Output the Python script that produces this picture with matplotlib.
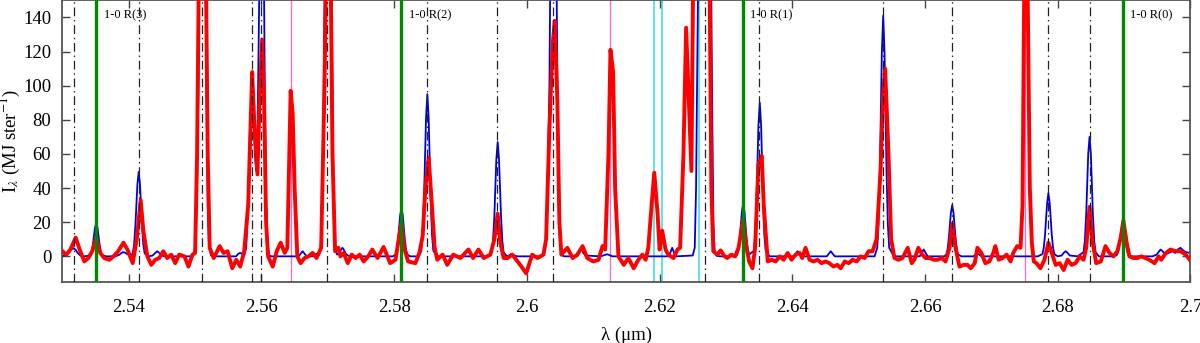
import matplotlib
matplotlib.use('Agg')
import matplotlib.pyplot as plt

# observed spectrum (red)
obs_wl = [2.5300, 2.5306, 2.5312, 2.5320, 2.5326, 2.5333, 2.5339, 2.5345, 2.5351, 2.5357,
          2.5363, 2.5371, 2.5377, 2.5384, 2.5392, 2.5398, 2.5406, 2.5412, 2.5418, 2.5422,
          2.5428, 2.5434, 2.5440, 2.5446, 2.5452, 2.5458, 2.5464, 2.5470, 2.5476, 2.5484,
          2.5490, 2.5496, 2.5500, 2.5503, 2.5506, 2.5516, 2.5519, 2.5522, 2.5528, 2.5532,
          2.5537, 2.5543, 2.5549, 2.5556, 2.5562, 2.5568, 2.5574, 2.5580, 2.5586, 2.5589,
          2.5594, 2.5597, 2.5601, 2.5604, 2.5607, 2.5610, 2.5617, 2.5623, 2.5629, 2.5635,
          2.5639, 2.5644, 2.5647, 2.5650, 2.5654, 2.5659, 2.5665, 2.5671, 2.5677, 2.5683,
          2.5690, 2.5695, 2.5698, 2.5704, 2.5707, 2.5711, 2.5716, 2.5719, 2.5724, 2.5730,
          2.5736, 2.5742, 2.5748, 2.5754, 2.5761, 2.5767, 2.5775, 2.5784, 2.5794, 2.5802,
          2.5806, 2.5811, 2.5815, 2.5821, 2.5832, 2.5838, 2.5843, 2.5847, 2.5852, 2.5856,
          2.5861, 2.5865, 2.5873, 2.5880, 2.5889, 2.5900, 2.5907, 2.5912, 2.5919, 2.5927,
          2.5935, 2.5945, 2.5951, 2.5956, 2.5960, 2.5965, 2.5971, 2.5978, 2.5984, 2.5990,
          2.5999, 2.6008, 2.6016, 2.6025, 2.6029, 2.6034, 2.6039, 2.6042, 2.6046, 2.6049,
          2.6052, 2.6061, 2.6069, 2.6076, 2.6084, 2.6091, 2.6100, 2.6108, 2.6114, 2.6118,
          2.6123, 2.6126, 2.6130, 2.6133, 2.6138, 2.6146, 2.6153, 2.6161, 2.6168, 2.6174,
          2.6179, 2.6183, 2.6188, 2.6192, 2.6197, 2.6200, 2.6204, 2.6209, 2.6213, 2.6221,
          2.6227, 2.6231, 2.6236, 2.6240, 2.6244, 2.6248, 2.6251, 2.6275, 2.6278, 2.6281,
          2.6287, 2.6292, 2.6298, 2.6302, 2.6308, 2.6314, 2.6319, 2.6322, 2.6326, 2.6331,
          2.6335, 2.6340, 2.6344, 2.6349, 2.6354, 2.6357, 2.6363, 2.6369, 2.6375, 2.6381,
          2.6387, 2.6393, 2.6399, 2.6405, 2.6411, 2.6415, 2.6420, 2.6426, 2.6432, 2.6438,
          2.6444, 2.6450, 2.6456, 2.6462, 2.6468, 2.6473, 2.6479, 2.6485, 2.6491, 2.6497,
          2.6503, 2.6509, 2.6515, 2.6521, 2.6527, 2.6533, 2.6537, 2.6540, 2.6545, 2.6549,
          2.6554, 2.6560, 2.6566, 2.6574, 2.6580, 2.6584, 2.6590, 2.6596, 2.6601, 2.6607,
          2.6613, 2.6619, 2.6625, 2.6631, 2.6637, 2.6641, 2.6646, 2.6652, 2.6658, 2.6664,
          2.6669, 2.6675, 2.6679, 2.6685, 2.6691, 2.6697, 2.6703, 2.6706, 2.6711, 2.6717,
          2.6723, 2.6729, 2.6733, 2.6739, 2.6744, 2.6747, 2.6750, 2.6754, 2.6758, 2.6761,
          2.6764, 2.6768, 2.6774, 2.6780, 2.6786, 2.6791, 2.6797, 2.6803, 2.6809, 2.6815,
          2.6821, 2.6827, 2.6833, 2.6839, 2.6843, 2.6848, 2.6852, 2.6858, 2.6865, 2.6872,
          2.6878, 2.6884, 2.6890, 2.6895, 2.6899, 2.6904, 2.6908, 2.6914, 2.6920, 2.6926,
          2.6932, 2.6938, 2.6946, 2.6952, 2.6956, 2.6963, 2.6970, 2.6978, 2.6985, 2.6993,
          2.6999]
obs_flux = [3, 1, 4, 11, 4, -3, -1, 3, 11, 2,
            -1, -2, 0, 3, 8, 4, -4, 10, 33, 15,
            0, -5, -2, -1, 3, -1, 1, -4, 1, 0,
            -6, 1, 2, 60, 180, 180, 60, 5, -1, 2,
            6, 2, 3, -7, -2, -6, 3, 30, 108, 80,
            48, 90, 127, 90, 20, 0, -6, 3, 8, 2,
            5, 97, 84, 40, 0, -4, -1, 0, 2, -1,
            5, 100, 180, 180, 60, 3, 5, 0, 2, -4,
            1, -1, 1, -3, 0, 4, -1, 5.5, -4, -2,
            8, 20, 5, -3, -4, 2, 12, 40, 58, 35,
            5, -2, 1, -5, 1, -1, 2, 4, -1, 4,
            -1, 1, 10, 25, 8, -1, -1, 1, -2, -5,
            -10, 1, -1, 1, 10, 75, 125, 138, 90, 20,
            1, 5, -1, 1, 6, -1, -3, -2, 6, 4,
            60, 121, 108, 40, 0, -5, -1, -7, -2, 1,
            -2, 5, 30, 49, 25, 4, 15, 4, 1, -1,
            4, 5, 60, 134, 92, 50, 180, 180, 40, 3,
            1, 3.5, 0, -1, 1, 0, 5, 12, 22, 5,
            -3, -7, 5, 54, 59, 30, -3, -2, -3, 0,
            -2, 2, -2, 1, 2, -1, 5, -2, -3, -2,
            -4, -3, -4, -6, -5, -7, -3, -4, -2, -3,
            0, -1, 3, 3, 10, 50, 95, 110, 60, 10,
            -1, -2, -1, 5, -4, -2, 5, 1, -1, -1,
            -2, -2, -1, -3, 5, 19, 5, -6, -5, -5,
            -7, -4, 5, 2, -4, -3, 2, 6, -2, -1,
            1, -3, 2, 6, 5, 30, 180, 180, 40, 8,
            -3, -4, -7, -2, 8, 2, -5, -4, -8, -2,
            -5, -4, 0, -2, 5, 29, 10, -4, -3, 6,
            2, 0, 3, 11, 21, 8, 0, -1, -1, 0,
            -1, -2, -4, 0, -2, 2, 4, 3, 3, 1,
            -2]

# model spectrum (blue), one row per feature
mod_wl = [2.5300, 2.5306, 2.5310, 2.5313, 2.5317, 2.5320, 2.5323, 2.5327, 2.5333, 2.5338,
          2.5342, 2.5344, 2.5346, 2.5349, 2.5351, 2.5353, 2.5356, 2.5358, 2.5360,
          2.5366, 2.5380, 2.5386, 2.5389, 2.5392, 2.5395, 2.5399, 2.5403,
          2.5406, 2.5408, 2.5410, 2.5413, 2.5415, 2.5417, 2.5420, 2.5422, 2.5424,
          2.5430, 2.5436, 2.5440, 2.5443, 2.5446, 2.5450, 2.5454,
          2.5496, 2.5499, 2.5501, 2.5503, 2.5505, 2.5507, 2.5515, 2.5517, 2.5519, 2.5521, 2.5524, 2.5528,
          2.5562, 2.5565, 2.5568, 2.5571, 2.5574, 2.5577, 2.5580, 2.5583, 2.5586, 2.5588, 2.5590,
          2.5592, 2.5594, 2.5596, 2.5598, 2.5603, 2.5605, 2.5607, 2.5609, 2.5612, 2.5615,
          2.5656, 2.5659, 2.5662, 2.5665, 2.5668, 2.5677, 2.5680, 2.5683, 2.5686,
          2.5689, 2.5691, 2.5693, 2.5695, 2.5697, 2.5705, 2.5707, 2.5709, 2.5711, 2.5714,
          2.5718, 2.5720, 2.5722, 2.5724, 2.5727, 2.5731, 2.5736, 2.5798,
          2.5802, 2.5804, 2.5806, 2.5809, 2.5811, 2.5813, 2.5816, 2.5818, 2.5820, 2.5824, 2.5837,
          2.5841, 2.5843, 2.5845, 2.5848, 2.5850, 2.5852, 2.5855, 2.5857, 2.5859, 2.5865,
          2.5940, 2.5947, 2.5949, 2.5951, 2.5954, 2.5956, 2.5958, 2.5961, 2.5963, 2.5965,
          2.5970, 2.5974, 2.5977, 2.5980, 2.5985,
          2.6022, 2.6026, 2.6029, 2.6031, 2.6034, 2.6036, 2.6044, 2.6046, 2.6048, 2.6050, 2.6053, 2.6057,
          2.6076, 2.6079, 2.6082, 2.6085, 2.6088, 2.6111, 2.6118, 2.6121, 2.6124, 2.6129,
          2.6213, 2.6216, 2.6219, 2.6222, 2.6225,
          2.6250, 2.6253, 2.6255, 2.6257, 2.6259, 2.6277, 2.6279, 2.6281, 2.6283, 2.6286, 2.6292, 2.6314,
          2.6317, 2.6319, 2.6321, 2.6324, 2.6326, 2.6328, 2.6331, 2.6333, 2.6335,
          2.6342, 2.6344, 2.6346, 2.6349, 2.6351, 2.6353, 2.6356, 2.6358, 2.6360, 2.6366,
          2.6402, 2.6405, 2.6408, 2.6411, 2.6414, 2.6452, 2.6455, 2.6458, 2.6461, 2.6464, 2.6524,
          2.6528, 2.6530, 2.6532, 2.6535, 2.6537, 2.6539, 2.6542, 2.6544, 2.6546, 2.6553,
          2.6592, 2.6595, 2.6598, 2.6601, 2.6604, 2.6629,
          2.6632, 2.6634, 2.6636, 2.6639, 2.6641, 2.6643, 2.6646, 2.6648, 2.6650, 2.6655,
          2.6673, 2.6676, 2.6679, 2.6682, 2.6685, 2.6770,
          2.6777, 2.6779, 2.6781, 2.6784, 2.6786, 2.6788, 2.6791, 2.6793, 2.6795, 2.6800,
          2.6806, 2.6809, 2.6812, 2.6815, 2.6818, 2.6830,
          2.6839, 2.6841, 2.6843, 2.6846, 2.6848, 2.6850, 2.6853, 2.6855, 2.6857, 2.6862, 2.6884,
          2.6889, 2.6891, 2.6893, 2.6896, 2.6898, 2.6900, 2.6903, 2.6905, 2.6907, 2.6911,
          2.6943, 2.6949, 2.6953, 2.6955, 2.6958, 2.6962, 2.6967, 2.6973, 2.6977, 2.6981,
          2.6985, 2.6989, 2.6993, 2.6999]
mod_flux = [0, 1, 2.5, 4, 4.8, 3.8, 2, 0.5, 0, 0.3,
            0.7, 2.6, 7, 16.5, 19.5, 16.5, 7, 2.6, 0.7,
            0, 0, 1, 2, 2.5, 2, 1, 0.5,
            1.7, 6.7, 18, 42, 49.5, 42, 18, 6.7, 1.7,
            0, 0.5, 2, 3, 2, 0.5, 0,
            0, 2, 10, 40, 100, 200, 200, 100, 30, 6, 0.5, 0,
            0, 1.5, 2, 1.5, 0.5, 5, 30, 80, 95, 85, 60,
            50, 70, 130, 200, 200, 100, 30, 6, 0.5, 0,
            0, 1.5, 3, 1.5, 0, 0, 1, 1.5, 0.5,
            4, 20, 70, 150, 200, 200, 100, 25, 5, 1,
            2, 4, 5, 4, 1.5, 0.3, 0, 0,
            1, 3.8, 10, 24, 28, 24, 10, 3.8, 1, 0, 0,
            3.3, 12.8, 34, 81, 95, 81, 34, 12.8, 3.3, 0,
            0, 2.3, 9, 24, 57, 67, 57, 24, 9, 2.3,
            0, 0.7, 1.5, 0.7, 0,
            0, 2, 10, 35, 100, 200, 200, 100, 30, 6, 0.5, 0,
            0, 2, 5.5, 2, 0.5, 0, 0.8, 1.2, 0.8, 0,
            0, 2, 5, 2, 0,
            0.5, 5, 40, 120, 200, 200, 100, 20, 3, 0.3, 0, 0,
            1.1, 4.2, 11, 26, 31, 26, 11, 4.2, 1.1,
            3.2, 12, 32, 77, 90, 77, 32, 12, 3.2, 0,
            0, 1.5, 3, 1.5, 0, 0, 1.5, 3, 1.5, 0, 0,
            5, 19, 51, 120, 141, 120, 51, 19, 5, 0,
            0, 2, 4, 2, 0, 0,
            1, 4, 11, 25.5, 30, 25.5, 11, 4, 1, 0,
            0, 1, 1.5, 1, 0, 0,
            1.3, 5, 13, 31, 37, 31, 13, 5, 1.3, 0,
            0.5, 2, 3, 2, 0.5, 0,
            2.5, 9.5, 25, 60, 70, 60, 25, 9.5, 2.5, 0, 0,
            0.7, 2.6, 7, 16, 19, 16, 7, 2.6, 0.7, 0,
            0, 1, 3, 4, 3, 1, 2, 3, 2, 4,
            5, 3.5, 2.5, 2]

# line positions
dashdot_lines = [2.5317, 2.5415, 2.5511, 2.5586, 2.5600, 2.5699, 2.5850, 2.5955, 2.6040,
                 2.6269, 2.6350, 2.6537, 2.6641, 2.6786, 2.6848]
r_lines = [2.5351, 2.5811, 2.6326, 2.6898]
r_labels = ['1-0 R(3)', '1-0 R(2)', '1-0 R(1)', '1-0 R(0)']
pink_lines = [2.5645, 2.6126, 2.6750]
cyan_lines = [2.6191, 2.6204, 2.6259]

plt.rcParams['font.family'] = ['Liberation Serif', 'DejaVu Serif']
plt.rcParams['mathtext.fontset'] = 'stix'

fig = plt.figure(figsize=(12, 3.43), dpi=100)
ax = fig.add_axes([0.052, 0.178, 0.94, 0.821])

for w in pink_lines:
    ax.axvline(w, color='#ff66cc', lw=0.9, zorder=1)
for w in cyan_lines:
    ax.axvline(w, color='#33dddd', lw=1.1, zorder=1)

ax.plot(mod_wl, mod_flux, color='#0000dd', lw=1.3, zorder=2)
ax.plot(obs_wl, obs_flux, color='#ff0000', lw=2.8, zorder=3)

for w in dashdot_lines:
    ax.axvline(w, color='#222222', lw=0.9, ls=(0, (7, 3, 1.2, 3)), zorder=4)
for w, lab in zip(r_lines, r_labels):
    ax.axvline(w, color='#008800', lw=2.4, zorder=5)
    ax.text(w + 0.0011, 141, lab, fontsize=9, va='center', ha='left', zorder=6)

ax.set_xlim(2.53, 2.7)
ax.set_ylim(-15, 150)
ax.set_xticks([2.54, 2.56, 2.58, 2.6, 2.62, 2.64, 2.66, 2.68, 2.7])
ax.set_xticklabels(['2.54', '2.56', '2.58', '2.6', '2.62', '2.64', '2.66', '2.68', '2.7'])
ax.set_yticks([0, 20, 40, 60, 80, 100, 120, 140])
ax.tick_params(direction='in', top=True, right=True, length=6, width=1, labelsize=13.5,
               color='#444444', pad=8)
ax.tick_params(axis='x', pad=12)
for s in ax.spines.values():
    s.set_color('#555555')
    s.set_linewidth(1.3)

ax.set_xlabel('λ (μm)', fontsize=13.5, labelpad=8)
ax.set_ylabel(r'I$_\lambda$ (MJ ster$^{-1}$)', fontsize=13.5)
ax.yaxis.set_label_coords(-0.036, 0.5)

fig.savefig('out.png', dpi=100)
